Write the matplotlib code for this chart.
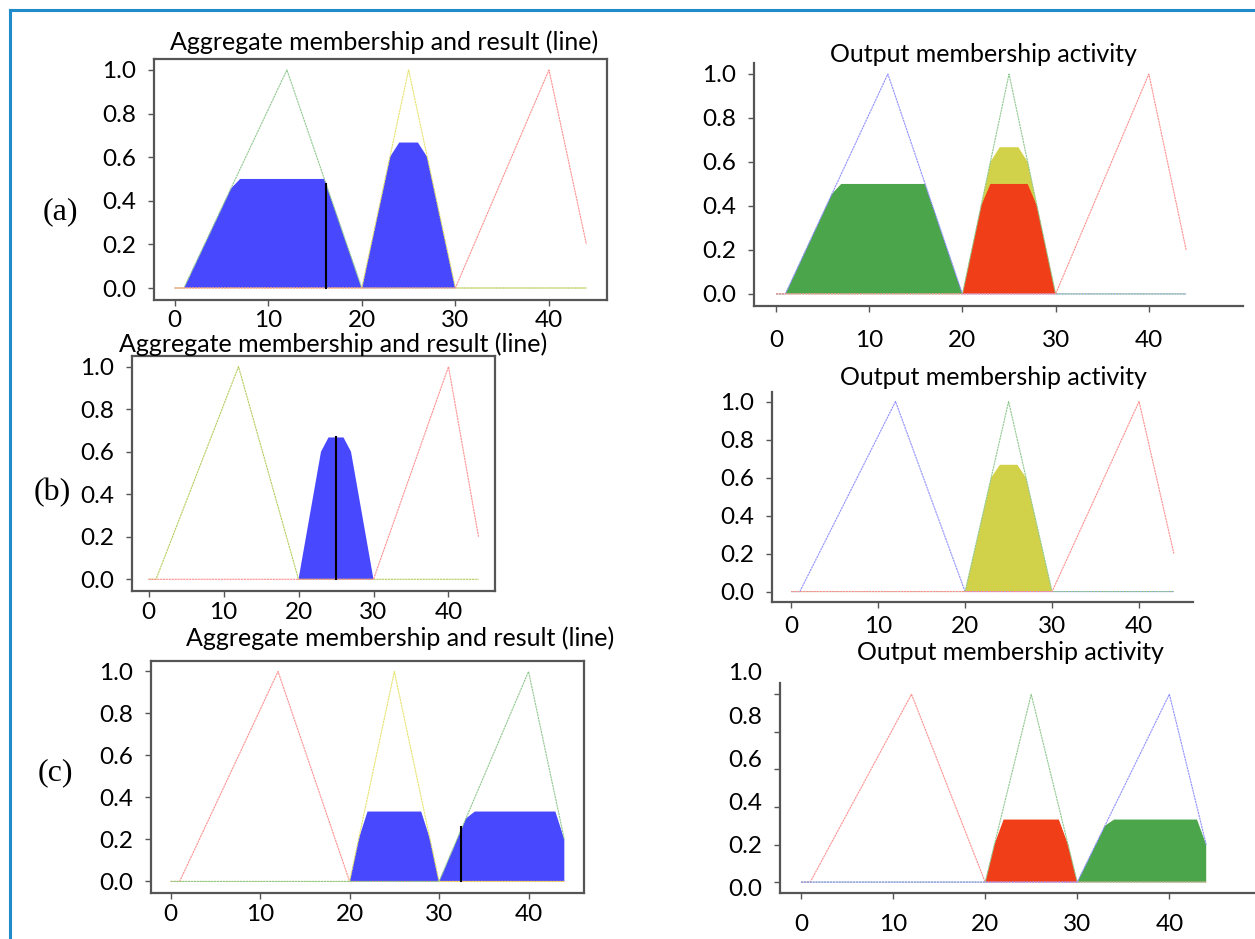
import matplotlib
matplotlib.use("Agg")
import matplotlib.pyplot as plt
from matplotlib.lines import Line2D

plt.rcParams['font.family'] = ['Lato', 'DejaVu Sans']

# membership functions (triangle vertices on universe 0..44)
low_x = [0, 1, 12, 20, 44]
low_y = [0, 0, 1, 0, 0]
mid_x = [0, 20, 25, 30, 44]
mid_y = [0, 0, 1, 0, 0]
high_x = [0, 30, 40, 44]
high_y = [0, 0, 1, 0.2]

# case (a)
a_agg_x = [1, 6, 7, 16, 20, 23, 24, 26, 27, 30]
a_agg_y = [0, 0.455, 0.5, 0.5, 0, 0.6, 0.667, 0.667, 0.6, 0]
a_centroid = (16.2, 0.475)
a_low_act_x = [1, 6, 7, 16, 20]
a_low_act_y = [0, 0.455, 0.5, 0.5, 0]
a_mid_act_x = [20, 23, 24, 26, 27, 30]
a_mid_act_y = [0, 0.6, 0.667, 0.667, 0.6, 0]
a_mid2_act_x = [20, 22, 23, 27, 28, 30]
a_mid2_act_y = [0, 0.4, 0.5, 0.5, 0.4, 0]

# case (b)
b_agg_x = [20, 23, 24, 26, 27, 30]
b_agg_y = [0, 0.6, 0.667, 0.667, 0.6, 0]
b_centroid = (25.0, 0.667)

# case (c)
c_agg_x = [20, 21, 22, 28, 29, 30, 33, 34, 43, 44]
c_agg_y = [0, 0.2, 0.333, 0.333, 0.2, 0, 0.3, 0.333, 0.333, 0.2]
c_centroid = (32.5, 0.26)
c_mid_act_x = [20, 21, 22, 28, 29, 30]
c_mid_act_y = [0, 0.2, 0.333, 0.333, 0.2, 0]
c_high_act_x = [30, 33, 34, 43, 44]
c_high_act_y = [0, 0.3, 0.333, 0.333, 0.2]

yticks = [0.0, 0.2, 0.4, 0.6, 0.8, 1.0]
xticks = [0, 10, 20, 30, 40]

W, H = 1255, 939
BLUE_FILL = '#4848ff'
GREEN_FILL = '#4ba54b'
YELLOW_FILL = '#d2d24a'
RED_FILL = '#f03e18'
L_GREEN = '#90c890'
L_YELLOW = '#e6e26a'
L_RED = '#ff9090'
L_BLUE = '#9090ff'
L_OLIVE = '#b4cc5c'
SPINE = '#555555'
TICK_FS = 17.5
TITLE_FS = 18

fig = plt.figure(figsize=(W / 100, H / 100), dpi=100)


def rect(x0, y0, x1, y1):
    return [x0 / W, 1 - y1 / H, (x1 - x0) / W, (y1 - y0) / H]


def mf(ax, x, y, color):
    ax.plot(x, y, color=color, lw=0.8, linestyle=(0, (2, 0.6)))


def style(ax, boxed, xpad, xlim=(-2.2, 46.2)):
    ax.set_xlim(*xlim)
    ax.set_ylim(-0.055, 1.05)
    ax.set_xticks(xticks)
    ax.set_yticks(yticks)
    ax.set_yticklabels([f"{v:.1f}" for v in yticks])
    ax.tick_params(axis='both', labelsize=TICK_FS, length=4, width=1, color=SPINE)
    ax.tick_params(axis='y', pad=9)
    ax.tick_params(axis='x', pad=xpad)
    for side in ['top', 'right']:
        ax.spines[side].set_visible(boxed)
    for sp in ax.spines.values():
        sp.set_color(SPINE)
        sp.set_linewidth(1.6)


def title(x, y, s):
    fig.text(x / W, 1 - y / H, s, ha='center', va='center', fontsize=TITLE_FS)


# (a) aggregate
ax = fig.add_axes(rect(154, 59, 607, 300))
ax.fill_between(a_agg_x, 0, a_agg_y, facecolor=BLUE_FILL, lw=0)
mf(ax, low_x, low_y, L_GREEN)
mf(ax, mid_x, mid_y, L_YELLOW)
mf(ax, high_x, high_y, L_RED)
ax.plot([a_centroid[0]] * 2, [0, a_centroid[1]], color='black', lw=1.5)
style(ax, True, 3)
title(384, 42, "Aggregate membership and result (line)")

# (a) activity
ax = fig.add_axes(rect(754, 63, 1243, 306))
ax.fill_between(a_low_act_x, 0, a_low_act_y, facecolor=GREEN_FILL, lw=0)
ax.fill_between(a_mid_act_x, 0, a_mid_act_y, facecolor=YELLOW_FILL, lw=0)
ax.fill_between(a_mid2_act_x, 0, a_mid2_act_y, facecolor=RED_FILL, lw=0)
mf(ax, low_x, low_y, L_BLUE)
mf(ax, mid_x, mid_y, L_GREEN)
mf(ax, high_x, high_y, L_RED)
style(ax, False, 13, xlim=(-2.36, 50.1))
title(983, 55, "Output membership activity")

# (b) aggregate
ax = fig.add_axes(rect(132, 356, 495, 591))
ax.fill_between(b_agg_x, 0, b_agg_y, facecolor=BLUE_FILL, lw=0)
mf(ax, low_x, low_y, L_OLIVE)
mf(ax, high_x, high_y, L_RED)
ax.plot([b_centroid[0]] * 2, [0, b_centroid[1]], color='black', lw=1.5)
style(ax, True, 4)
title(333, 344, "Aggregate membership and result (line)")

# (b) activity
ax = fig.add_axes(rect(772, 392, 1193, 602))
ax.fill_between(b_agg_x, 0, b_agg_y, facecolor=YELLOW_FILL, lw=0)
mf(ax, low_x, low_y, L_BLUE)
mf(ax, mid_x, mid_y, L_GREEN)
mf(ax, high_x, high_y, L_RED)
style(ax, False, 6)
title(993, 377, "Output membership activity")

# (c) aggregate
ax = fig.add_axes(rect(151, 661, 584, 893))
ax.fill_between(c_agg_x, 0, c_agg_y, facecolor=BLUE_FILL, lw=0)
mf(ax, low_x, low_y, L_RED)
mf(ax, mid_x, mid_y, L_YELLOW)
mf(ax, high_x, high_y, L_GREEN)
ax.plot([c_centroid[0]] * 2, [0, c_centroid[1]], color='black', lw=1.5)
style(ax, True, 4)
title(400, 638, "Aggregate membership and result (line)")

# (c) activity - tick labels sit on a slightly taller scale than the ticks
ax = fig.add_axes(rect(780, 683, 1255, 893))
ax.fill_between(c_mid_act_x, 0, c_mid_act_y, facecolor=RED_FILL, lw=0)
ax.fill_between(c_high_act_x, 0, c_high_act_y, facecolor=GREEN_FILL, lw=0)
mf(ax, low_x, low_y, L_RED)
mf(ax, mid_x, mid_y, L_GREEN)
mf(ax, high_x, high_y, L_BLUE)
style(ax, False, 11, xlim=(-2.28, 49.3))
ax.set_ylim(-0.058, 1.06)
ax.set_yticklabels([])
lab = fig.add_axes(rect(780, 672, 781, 888), frameon=False)
lab.set_ylim(0, 1)
lab.set_xticks([])
lab.set_yticks(yticks)
lab.set_yticklabels([f"{v:.1f}" for v in yticks])
lab.tick_params(axis='y', length=0, labelsize=TICK_FS, pad=13)
title(1010, 653, "Output membership activity")

# panel letters
for lbl, (px, py) in zip(["(a)", "(b)", "(c)"], [(60, 212), (52, 493), (55, 773)]):
    fig.text(px / W, 1 - py / H, lbl, ha='center', va='center',
             fontsize=23, family='Liberation Serif')

# blue frame on the left and top
fig.add_artist(Line2D([10 / W, 10 / W], [0, 1 - 10 / H], color='#1f8bcb', lw=2.2))
fig.add_artist(Line2D([10 / W, 1], [1 - 10 / H, 1 - 10 / H], color='#1f8bcb', lw=2.2))

fig.savefig("out.png", dpi=100)
